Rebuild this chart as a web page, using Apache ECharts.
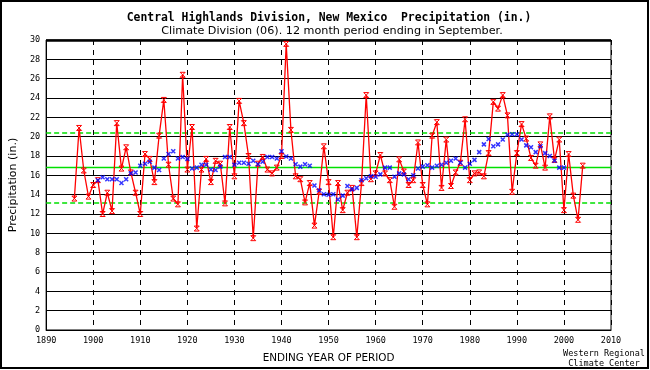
<!DOCTYPE html>
<html>
<head>
<meta charset="utf-8">
<script src="https://cdn.jsdelivr.net/npm/echarts@6/dist/echarts.min.js"></script>
<style>
html,body{margin:0;padding:0;background:#fff;}
#chart{width:650px;height:370px;}
</style>
</head>
<body>
<div id="chart"></div>
<script>
// ---- data ----
const precipStartYear = 1896;
const precip = [
  13.6, 20.9, 16.5, 13.8, 15.0, 15.5, 12.0, 14.2, 12.3, 21.4,   // 1896-1905
  16.7, 18.9, 16.3, 14.2, 12.0, 18.2, 17.7, 15.3, 20.1, 23.8,   // 1906-1915
  17.1, 13.6, 13.0, 26.4, 16.6, 21.0, 10.5, 16.6, 17.7, 15.3,   // 1916-1925
  17.5, 17.2, 13.1, 21.0, 15.9, 23.7, 21.4, 18.0, 9.5, 17.2,    // 1926-1935
  17.9, 16.6, 16.2, 16.8, 18.0, 29.6, 20.7, 15.9, 15.6, 13.2,   // 1936-1945
  15.2, 10.8, 14.3, 19.0, 15.3, 9.6, 15.2, 12.4, 14.2, 14.7,    // 1946-1955
  9.6, 15.2, 24.3, 15.6, 16.2, 18.1, 16.2, 15.5, 12.75, 17.65,  // 1956-1965
  16.4, 15.0, 15.5, 19.4, 15.0, 13.0, 20.1, 21.5, 14.7, 19.7,   // 1966-1975
  14.9, 16.3, 17.3, 21.8, 15.5, 16.2, 16.3, 15.9, 18.3, 23.6,   // 1976-1985
  22.9, 24.3, 22.2, 14.3, 18.3, 21.3, 19.8, 17.8, 17.0, 19.2,   // 1986-1995
  16.8, 22.1, 17.6, 19.7, 12.4, 18.2, 13.9, 11.4, 17.0          // 1996-2004
];
const runMeanStartYear = 1901;
const runMean = [
  15.5, 15.8, 15.6, 15.6, 15.6, 15.2, 15.6, 16.2, 16.3, 17.0,   // 1901-1910
  17.2, 17.4, 16.8, 16.55, 17.75, 18.2, 18.5, 17.75, 17.9, 17.7,// 1911-1920
  16.7, 16.8, 17.1, 17.1, 16.6, 16.55, 16.9, 17.9, 17.9, 17.1,  // 1921-1930
  17.3, 17.3, 17.2, 17.5, 17.15, 17.4, 17.9, 17.9, 17.75, 18.5, // 1931-1940
  17.95, 17.75, 17.15, 16.9, 17.15, 17.0, 14.95, 14.45, 14.05, 14.0, // 1941-1950
  14.05, 13.5, 13.9, 14.9, 14.55, 14.7, 15.5, 15.7, 15.9, 15.85,// 1951-1960
  16.1, 16.8, 16.8, 15.85, 16.2, 16.1, 15.6, 16.0, 16.7, 16.9,  // 1961-1970
  17.05, 16.8, 17.0, 17.1, 17.3, 17.5, 17.75, 17.3, 16.8, 17.2, // 1971-1980
  17.6, 18.4, 19.2, 19.75, 19.0, 19.2, 19.7, 20.2, 20.25, 20.25,// 1981-1990
  19.7, 19.1, 18.9, 18.4, 19.0, 18.3, 18.0, 17.5, 16.8, 16.8    // 1991-2000
];
const meanVal = 16.85;
const upperVal = 20.45;
const lowerVal = 13.2;
const yearTicks = { min: 1890, max: 2010, interval: 10 };
const precipTicks = { min: 0, max: 30, interval: 2 };

const titleText = 'Central Highlands Division, New Mexico  Precipitation (in.)';
const subText = 'Climate Division (06). 12 month period ending in September.';
const yName = 'Precipitation (in.)';
const xName = 'ENDING YEAR OF PERIOD';
const creditText = 'Western Regional\nClimate Center';

// ---- build ----
const precipData = precip.map((v, i) => [precipStartYear + i, v]);
const runMeanData = runMean.map((v, i) => [runMeanStartYear + i, v]);

const chart = echarts.init(document.getElementById('chart'), null, { renderer: 'canvas' });
const mono = 'DejaVu Sans Mono';
chart.setOption({
  animation: false,
  backgroundColor: '#fff',
  title: [
    { text: titleText, left: 324, top: 8, textAlign: 'center',
      textStyle: { fontFamily: mono, fontWeight: 'bold', fontSize: 11.4, color: '#000' } },
    { text: subText, left: 327, top: 21, textAlign: 'center',
      textStyle: { fontFamily: 'DejaVu Sans', fontWeight: 'normal', fontSize: 11.2, color: '#000' } }
  ],
  grid: { left: 40, right: 39, top: 40, bottom: 40, show: true, borderColor: '#000', borderWidth: 1, backgroundColor: '#fff' },
  xAxis: {
    type: 'value', min: yearTicks.min, max: yearTicks.max, interval: yearTicks.interval,
    name: xName, nameLocation: 'middle', nameGap: 23,
    nameTextStyle: { fontFamily: 'DejaVu Sans', fontSize: 10.4, color: '#000' },
    axisLine: { show: true, lineStyle: { color: '#000', width: 1 } },
    axisTick: { show: false },
    axisLabel: { fontFamily: mono, fontSize: 8.5, color: '#000', margin: 6, formatter: v => String(v) },
    splitLine: { show: true, lineStyle: { color: '#000', width: 1, type: [5, 5] } }
  },
  yAxis: {
    type: 'value', min: precipTicks.min, max: precipTicks.max, interval: precipTicks.interval,
    name: yName, nameLocation: 'middle', nameGap: 27, nameRotate: 90,
    nameTextStyle: { fontFamily: 'DejaVu Sans', fontSize: 11, color: '#000' },
    axisLine: { show: true, lineStyle: { color: '#000', width: 1 } },
    axisTick: { show: false },
    axisLabel: { fontFamily: mono, fontSize: 8.5, color: '#000', margin: 6 },
    splitLine: { show: true, lineStyle: { color: '#000', width: 1, type: 'solid' } }
  },
  series: [
    {
      type: 'line', data: precipData, z: 5,
      symbol: 'path://M0,0L6,0M0,6L6,6M0,0L6,6M6,0L0,6', symbolSize: [5, 5],
      itemStyle: { color: 'none', borderColor: '#ff0000', borderWidth: 1 },
      lineStyle: { color: '#ff0000', width: 1.3 },
      markLine: {
        silent: true, symbol: 'none', label: { show: false }, animation: false,
        data: [
          { yAxis: upperVal, lineStyle: { color: '#00e000', width: 1.5, type: [5, 3] } },
          { yAxis: lowerVal, lineStyle: { color: '#00e000', width: 1.5, type: [5, 3] } },
          { yAxis: meanVal, lineStyle: { color: '#00e000', width: 1.3, type: 'solid' } },
          { yAxis: precipTicks.max, lineStyle: { color: '#000', width: 2.5, type: 'solid' } }
        ]
      }
    },
    {
      type: 'scatter', data: runMeanData, z: 6,
      symbol: 'path://M0,0L4,4M4,0L0,4', symbolSize: [4, 4],
      itemStyle: { color: 'none', borderColor: '#0000ff', borderWidth: 1.5 }
    }
  ],
  graphic: [
    { type: 'rect', shape: { x: 1, y: 1, width: 647, height: 367 }, style: { fill: 'none', stroke: '#000', lineWidth: 2 }, z: 100 },
    { type: 'text', x: 604, y: 349, style: { text: creditText, fontFamily: mono, fontSize: 8.5, lineHeight: 10, fill: '#000', align: 'center', verticalAlign: 'top' }, z: 101 }
  ]
});
</script>
</body>
</html>
